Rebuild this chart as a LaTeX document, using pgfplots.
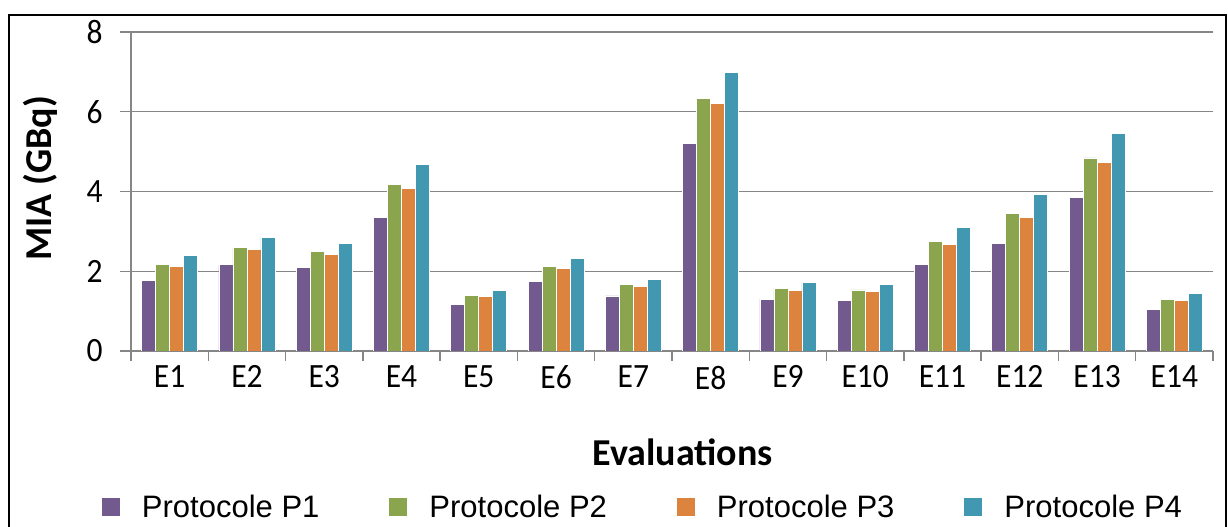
\documentclass[border=0pt]{standalone}
\usepackage{pgfplots}
\pgfplotsset{compat=1.18}
\usepackage{fontspec}
\setmainfont{Carlito}
\newfontfamily\legendfont{Liberation Sans}

\definecolor{pone}{RGB}{114,89,142}
\definecolor{ptwo}{RGB}{138,165,78}
\definecolor{pthree}{RGB}{220,131,61}
\definecolor{pfour}{RGB}{66,152,176}
\definecolor{gridgray}{RGB}{134,134,134}

% MIA per evaluation, one table per protocol
\pgfplotstableread{
x y
1 1.77
2 2.16
3 2.09
4 3.36
5 1.16
6 1.75
7 1.38
8 5.20
9 1.30
10 1.26
11 2.16
12 2.69
13 3.84
14 1.04
}\protone
\pgfplotstableread{
x y
1 2.18
2 2.60
3 2.49
4 4.18
5 1.40
6 2.12
7 1.66
8 6.34
9 1.56
10 1.53
11 2.74
12 3.45
13 4.84
14 1.30
}\prottwo
\pgfplotstableread{
x y
1 2.12
2 2.55
3 2.43
4 4.08
5 1.36
6 2.07
7 1.62
8 6.20
9 1.52
10 1.50
11 2.68
12 3.36
13 4.73
14 1.27
}\protthree
\pgfplotstableread{
x y
1 2.39
2 2.85
3 2.70
4 4.68
5 1.52
6 2.32
7 1.80
8 6.99
9 1.71
10 1.68
11 3.10
12 3.92
13 5.46
14 1.45
}\protfour

\begin{document}
\begin{tikzpicture}[x=1bp,y=1bp]
\useasboundingbox (0,0) rectangle (1228,527);
\draw[line width=2.2bp] (9,-30) rectangle (1226,512);
\begin{axis}[
  at={(131bp,176bp)}, anchor=south west,
  width=1082bp, height=319bp, scale only axis,
  xmin=0.5, xmax=14.5, ymin=0, ymax=8,
  ybar=0pt, bar width=14bp,
  axis lines*=left,
  axis line style={draw=gridgray, line width=1.4bp, -},
  ymajorgrids, grid style={draw=gridgray, line width=1.4bp},
  ytick={0,2,4,6,8},
  xtick={1,...,14},
  xticklabels={E1,E2,E3,E4,E5,E6,E7,E8,E9,E10,E11,E12,E13,E14},
  minor xtick={0.5,1.5,...,14.5},
  xtick style={draw=none},
  minor x tick style={draw=gridgray, line width=1.4bp},
  ytick style={draw=gridgray, line width=1.4bp},
  tick align=outside,
  major tick length=11bp, minor tick length=10bp,
  /pgf/number format/assume math mode=true,
  tick label style={font=\fontsize{31.5bp}{37bp}\selectfont, yscale=1.08},
  xticklabel style={yshift=0bp},
  yticklabel style={xshift=-14bp},
  xlabel={Evaluations},
  ylabel={MIA (GBq)},
  label style={font=\fontsize{38bp}{44bp}\selectfont\bfseries},
  xlabel style={at={(axis description cs:0.51,-0.317)}, anchor=center},
  ylabel style={at={(axis description cs:-0.084,0.541)}, anchor=center},
  every axis plot/.append style={draw=white, line width=0.8bp},
  legend image code/.code={\fill[#1, draw=none] (0bp,-9bp) rectangle (18bp,9bp);},
  legend columns=4,
  legend style={
    at={(axis description cs:-0.027,-0.489)}, anchor=west,
    draw=none, fill=none, inner sep=0pt,
    font=\legendfont\fontsize{31bp}{36bp}\selectfont,
    nodes={inner sep=0pt},
    /tikz/every odd column/.append style={column sep=22bp},
    /tikz/every even column/.append style={column sep=70bp},
  },
]
\addplot[fill=pone] table {\protone};
\addplot[fill=ptwo] table {\prottwo};
\addplot[fill=pthree] table {\protthree};
\addplot[fill=pfour] table {\protfour};
\legend{Protocole P1, Protocole P2, Protocole P3, Protocole P4}
\end{axis}
\end{tikzpicture}
\end{document}
